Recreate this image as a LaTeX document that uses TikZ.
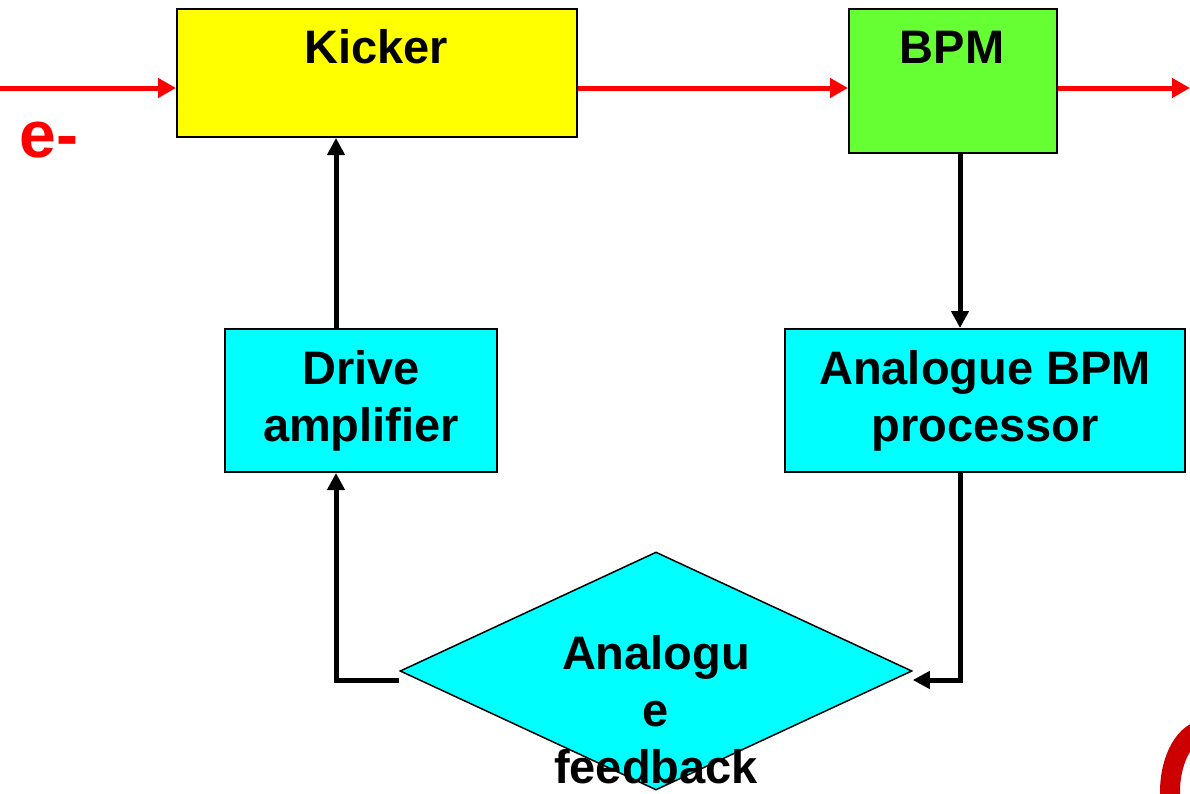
\documentclass[tikz,border=0pt]{standalone}
\usepackage{fontspec}
\setmainfont{Liberation Sans}
\usetikzlibrary{arrows.meta,shapes.geometric,calc}
\definecolor{kickyellow}{RGB}{255,255,0}
\definecolor{bpmgreen}{RGB}{102,255,51}
\definecolor{boxcyan}{RGB}{0,255,255}
\definecolor{beamred}{RGB}{255,0,0}
\definecolor{logored}{RGB}{204,0,0}
\begin{document}
\begin{tikzpicture}[x=1pt,y=-1pt,
  box/.style={draw=black,line width=2pt,inner sep=0pt,anchor=north west},
  lbl/.style={font=\fontsize{47}{57}\selectfont\bfseries,align=center,inner sep=0pt},
  beam/.style={draw=beamred,line width=5pt,-{Triangle[length=18pt,width=19pt]}},
  sig/.style={draw=black,line width=5pt,-{Triangle[length=17pt,width=17pt]}},
]
\useasboundingbox (0,0) rectangle (1190,793);
\clip (0,0) rectangle (1190,793);

% beam line components
\node[box,fill=kickyellow,minimum width=400pt,minimum height=128pt] (kicker) at (176,8) {};
\node[lbl] (kickerlbl) at (376,47) {Kicker};
\node[box,fill=bpmgreen,minimum width=208pt,minimum height=144pt] (bpm) at (848,8) {};
\node[lbl] (bpmlbl) at (952,47) {BPM};

% electronics
\node[box,fill=boxcyan,minimum width=272pt,minimum height=143pt] (drive) at (224,328) {};
\node[lbl] (drivelbl) at (drive.center) {Drive\\amplifier};
\node[box,fill=boxcyan,minimum width=400pt,minimum height=143pt] (proc) at (784,328) {};
\node[lbl] (proclbl) at (proc.center) {Analogue BPM\\processor};
\node[diamond,draw=black,line width=1.5pt,fill=boxcyan,inner sep=0pt,
      minimum width=512pt,minimum height=238pt] (fb) at (656,671) {};
\node[lbl] (fblbl) at (656,710) {Analogu\\e\\feedback};

% electron beam
\coordinate (beamin) at (0,88);
\coordinate (beamout) at (1190,88);
\draw[beam] (beamin) -- ($(kicker.north west)+(0,80)$);
\draw[beam] ($(kicker.north east)+(0,80)$) -- ($(bpm.north west)+(0,80)$);
\draw[beam] ($(bpm.north east)+(0,80)$) -- (beamout);
\node[text=beamred,font=\fontsize{66}{66}\selectfont\bfseries,inner sep=0pt] (elabel) at (49,140) {e-};

% feedback loop
\coordinate (drvx) at ($(drive.north west)+(112,0)$);
\coordinate (prcx) at ($(proc.north west)+(176,0)$);
\draw[sig] (drvx) -- (drvx |- kicker.south);
\draw[sig] (bpm.south -| prcx) -- (prcx);
\draw[sig] (proc.south -| prcx) |- ($(fb.east)+(0,9)$);
\draw[sig] ($(fb.west)+(0,9)$) -| (drive.south -| drvx);

% corner mark
\draw[draw=logored,line width=20pt] (1206,792) ellipse [x radius=36, y radius=62];
\end{tikzpicture}
\end{document}
